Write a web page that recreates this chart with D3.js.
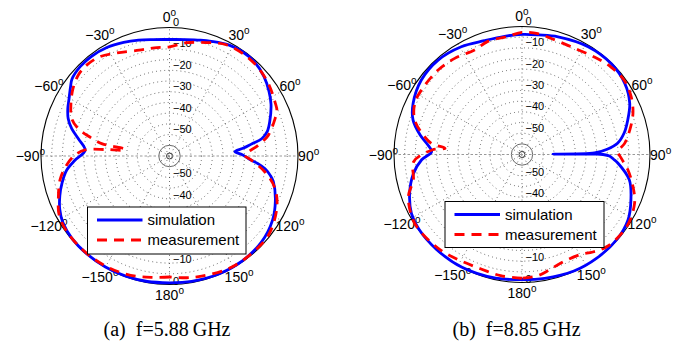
<!DOCTYPE html>
<html><head><meta charset="utf-8">
<script src="https://d3js.org/d3.v7.min.js"></script>
<style>html,body{margin:0;padding:0;background:#fff;}svg{display:block;}</style>
</head><body>
<script>
// ---- data (angles in degrees, clockwise from top; values in dB) ----
const simA_deg = [-180,-170,-160,-150,-140,-130,-122,-116,-110,-104,-97.9,-92.6,-86.1,-79.3,-74.4,-69.8,-65,-60.3,-55,-51.7,-45,-38,-30,-22,-15,-8,0,8,15,20,28,35,42,50,57,63,71,76,79.4,81.5,84,86.2,89,92,95,97.6,101,104,113,122,133,145,157,170,180];
const simA_db  = [-0.8,-0.5,-0.3,-0.2,-0.2,-0.4,-1.3,-3,-5.5,-8.3,-11.5,-15.8,-20.5,-16.7,-12.6,-9.6,-7.6,-6,-3.6,-2,-1,-0.9,-1.5,-2.8,-4,-5.1,-5.6,-5.1,-4,-3,-1.2,-0.6,-0.8,-2.4,-4.6,-6.8,-10.5,-13,-16.2,-21,-25.5,-29.4,-26,-23,-18.5,-15,-12,-10,-6.3,-3.3,-1.2,-0.4,-0.3,-0.6,-0.8];

const measA_deg = [-180,-172,-165,-157,-148,-137,-126,-118,-111,-102,-95,-89.4,-85.9,-84.2,-82.6,-81.2,-80.2,-79.7,-76.6,-73.3,-69,-63,-55,-48,-42,-35,-27,-16,-8,0,8.6,18,27,38,46.5,55,63,67,70.5,78.2,83.1,89.5,93,99.5,107.2,116.2,128.8,140,152,165,172,180];
const measA_db  = [-3.5,-2.8,-1.8,-1,-0.5,-0.3,-0.5,-1.6,-4.4,-7.8,-11.8,-15.9,-20.5,-30,-38.5,-39,-32,-27.8,-21.8,-15.5,-11.1,-8.3,-5,-3,-2.6,-3.4,-6,-8.6,-9,-9,-6.5,-4.3,-1.7,-1.2,-1.7,-3,-4.7,-5.5,-7.7,-12.9,-18.3,-24.7,-21.6,-14.8,-8.4,-4.2,-0.8,-0.5,-0.6,-1.9,-2.6,-3.5];

const simB_deg = [-180,-168,-152,-138,-126,-118,-109,-100,-93,-88.2,-84,-79.2,-72.4,-64.8,-53.5,-41.6,-29.4,-18.3,-8.4,0,8,17,31.5,44.4,55.3,64.6,72,78,83.3,86.5,88.8,89.4,89.7,90,91,93,95.2,103.3,112.6,121.7,131.7,144,156,169.6,180];
const simB_db  = [-1.4,-0.7,-0.1,-0.1,-0.3,-1.3,-4.3,-8.3,-12.9,-17.6,-15.5,-11.4,-6.4,-3.6,-1.3,-0.8,-2,-3.8,-4,-3.7,-3.4,-2.3,-0.7,-0.3,-1.4,-4.1,-7.9,-11,-14.9,-20,-26,-45.5,-26,-22,-19,-17,-14.8,-8.3,-4.7,-1.6,-0.3,-0.1,-0.2,-1,-1.4];

const measB_deg = [-180,-170,-160,-150,-140,-128,-121,-110.3,-103.2,-93.8,-87.1,-85.4,-83,-78.9,-72.2,-64.5,-57.4,-44.8,-35,-24.4,-16.8,-6.8,0,7.5,14.2,24.6,36.6,45.5,54,62.1,69.6,77.2,83.8,88.3,92.2,98.3,106.2,113.4,124.3,137,144,150,160,167,173,180];
const measB_db  = [-2,-2.3,-3,-2.5,-1.2,-0.3,-0.4,-3.2,-7.7,-9.1,-17.8,-23.8,-17.2,-12.9,-7.2,-4.3,-4,-4.2,-5,-6.2,-4.6,-4.2,-2.8,-2.9,-3.9,-4.5,-3.1,-1.5,-0.8,-2.1,-4.5,-8.2,-11.6,-15,-13.4,-9.8,-5.8,-2.5,-0.4,-1.2,-3.5,-5.8,-6,-4.3,-2.6,-2];

const angleTicks = [0,30,60,90,120,150,180,-150,-120,-90,-60,-30];
const angleLabels = ["0","30","60","90","120","150","180","\u2212150","\u2212120","\u221290","\u221260","\u221230"];
const rTicks = [0,-10,-20,-30,-40,-50];
const rTickLabels = ["0","\u221210","\u221220","\u221230","\u221240","\u221250"];
const gridRings = [-5,-10,-15,-20,-25,-30,-35,-40,-45,-50];
const seriesNames = ["simulation","measurement"];
const captions = ["(a)\u2002f=5.88\u2009GHz","(b)\u2002f=8.85\u2009GHz"];

// ---- layout ----
const W = 685, H = 344;
const panels = [
  {cx:169.5, cy:156, R:128.5, sim:[simA_deg,simA_db], meas:[measA_deg,measA_db], lg:{x:87.5,y:207,w:158.5,h:47}, capX:167, cap:captions[0]},
  {cx:522, cy:154.5, R:128, sim:[simB_deg,simB_db], meas:[measB_deg,measB_db], lg:{x:445,y:201.5,w:159,h:46}, capX:516.5, cap:captions[1]}
];
const sans = "'Liberation Sans', Arial, Helvetica, sans-serif";
const serif = "'Liberation Serif', 'Times New Roman', Times, serif";

const svg = d3.select("body").append("svg").attr("width",W).attr("height",H);

panels.forEach(p => {
  const g = svg.append("g").attr("transform",`translate(${p.cx},${p.cy})`);
  const r = d3.scaleLinear().domain([-60,0]).range([0,p.R]).clamp(true);
  const rad = d => d*Math.PI/180;

  // dotted rings
  g.selectAll("circle.ring").data(gridRings).join("circle")
    .attr("r", d=>r(d)).attr("fill","none")
    .attr("stroke","#333").attr("stroke-width",0.8).attr("stroke-dasharray","0.9,3.2");
  // inner solid circles
  g.append("circle").attr("r", r(-55)).attr("fill","none").attr("stroke","#444").attr("stroke-width",0.8);
  g.append("circle").attr("r", r(-58.6)).attr("fill","none").attr("stroke","#222").attr("stroke-width",0.9);
  // spokes
  const spokes = d3.range(0,180,30).filter(a=>a!==90);
  spokes.forEach(a=>{
    const x = p.R*Math.sin(rad(a)), y = -p.R*Math.cos(rad(a));
    g.append("line").attr("x1",-x).attr("y1",-y).attr("x2",x).attr("y2",y)
      .attr("stroke","#333").attr("stroke-width",0.8).attr("stroke-dasharray","0.9,3.2");
  });
  // horizontal dashed axis
  g.append("line").attr("x1",-p.R).attr("x2",p.R).attr("y1",0).attr("y2",0)
    .attr("stroke","#999").attr("stroke-width",1).attr("stroke-dasharray","2.5,2");
  // outer circle
  g.append("circle").attr("r",p.R).attr("fill","none").attr("stroke","#000").attr("stroke-width",1.1);

  // radial tick labels (top and bottom); the ones under the legend box are hidden in the original
  const inLegend = (yAbs) => yAbs > p.lg.y - 2 && yAbs - 9 < p.lg.y + p.lg.h;
  rTicks.forEach((t,i)=>{
    g.append("text").attr("x",3.5).attr("y",-r(t)-1.5).text(rTickLabels[i])
      .attr("font-family",sans).attr("font-size",11).attr("fill","#000");
    if (!inLegend(p.cy + r(t)))
      g.append("text").attr("x",3.5).attr("y",r(t)).text(rTickLabels[i])
        .attr("font-family",sans).attr("font-size",11).attr("fill","#000");
  });

  // angle labels
  const rl = p.R*1.083;
  angleTicks.forEach((a,i)=>{
    const x = rl*Math.sin(rad(a)), y = -rl*Math.cos(rad(a));
    const t = g.append("text").attr("x",x).attr("y",y+5).attr("text-anchor","middle")
      .attr("font-family",sans).attr("font-size",14).attr("fill","#000");
    t.append("tspan").text(angleLabels[i]);
    t.append("tspan").attr("dy",-6).attr("font-size",10).text("o");
  });

  // curves
  const line = d3.lineRadial().angle(d=>rad(d[0])).radius(d=>r(d[1])).curve(d3.curveCatmullRom.alpha(0.5));
  const simPts = p.sim[0].map((a,i)=>[a,p.sim[1][i]]);
  const measPts = p.meas[0].map((a,i)=>[a,p.meas[1][i]]);
  g.append("path").attr("d",line(simPts)).attr("fill","none").attr("stroke","#0000ff").attr("stroke-width",2.8).attr("stroke-linejoin","round");
  g.append("path").attr("d",line(measPts)).attr("fill","none").attr("stroke","#ff0000").attr("stroke-width",2.8).attr("stroke-dasharray","10,7");

  // legend
  const L = svg.append("g").attr("transform",`translate(${p.lg.x},${p.lg.y})`);
  L.append("rect").attr("width",p.lg.w).attr("height",p.lg.h).attr("fill","#fff").attr("stroke","#000").attr("stroke-width",1);
  const colors = ["#0000ff","#ff0000"], dashes=[null,"10,7"];
  seriesNames.forEach((n,i)=>{
    const yy = 13 + i*20;
    L.append("line").attr("x1",9.5).attr("x2",55).attr("y1",yy).attr("y2",yy)
      .attr("stroke",colors[i]).attr("stroke-width",2.8).attr("stroke-dasharray",dashes[i]);
    L.append("text").attr("x",60).attr("y",yy+5).text(n).attr("font-family",sans).attr("font-size",15).attr("fill","#000");
  });

  // caption
  svg.append("text").attr("x",p.capX).attr("y",336).attr("text-anchor","middle")
    .attr("font-family",serif).attr("font-size",20).attr("fill","#000").text(p.cap);
});
</script>
</body></html>
